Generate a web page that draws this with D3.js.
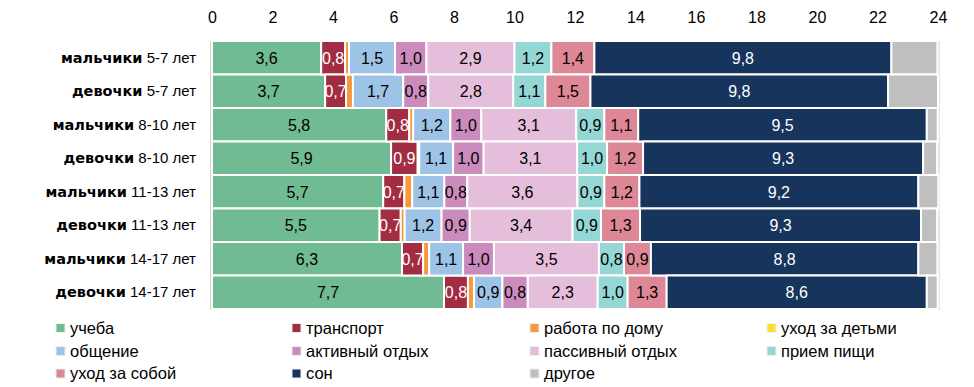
<html>
<head>
<meta charset="utf-8">
<script src="https://d3js.org/d3.v7.min.js"></script>
<style>
  body { margin: 0; background: #fff; }
  text { font-family: "Liberation Sans", Arial, sans-serif; }
</style>
</head>
<body>
<script type="text/javascript">

// groups (rows), top to bottom
var gender = ["мальчики", "девочки", "мальчики", "девочки", "мальчики", "девочки", "мальчики", "девочки"];
var ages = ["5-7", "5-7", "8-10", "8-10", "11-13", "11-13", "14-17", "14-17"];

// hours per day for each activity, one value per row
var study         = [3.61, 3.74, 5.76, 5.92, 5.66, 5.54, 6.28, 7.67];
var transport     = [0.79, 0.69, 0.76, 0.88, 0.70, 0.70, 0.70, 0.79];
var housework     = [0.13, 0.23, 0.13, 0.05, 0.26, 0.13, 0.20, 0.20];
var childcare     = [0, 0, 0, 0, 0, 0, 0, 0];
var communication = [1.52, 1.66, 1.23, 1.12, 1.06, 1.22, 1.12, 0.94];
var activeRest    = [1.04, 0.83, 1.02, 1.01, 0.76, 0.93, 1.02, 0.84];
var passiveRest   = [2.91, 2.81, 3.14, 3.09, 3.64, 3.40, 3.47, 2.31];
var meals         = [1.22, 1.06, 0.93, 0.99, 0.89, 0.94, 0.83, 0.99];
var selfCare      = [1.42, 1.49, 1.12, 1.19, 1.16, 1.29, 0.89, 1.29];
var sleep         = [9.82, 9.84, 9.54, 9.26, 9.22, 9.29, 8.84, 8.60];
var other         = [1.52, 1.65, 0.36, 0.46, 0.66, 0.53, 0.63, 0.36];

var seriesNames = ["учеба", "транспорт", "работа по дому", "уход за детьми",
  "общение", "активный отдых", "пассивный отдых", "прием пищи",
  "уход за собой", "сон", "другое"];
var seriesValues = [study, transport, housework, childcare, communication,
  activeRest, passiveRest, meals, selfCare, sleep, other];
var colors = ["#70bb93", "#a22c42", "#f59a3c", "#fbe03c", "#9dc3e6",
  "#cc8bbd", "#e4bedb", "#94d7d5", "#de8796", "#17345d", "#bfbfbf"];
var whiteLabel = ["транспорт", "сон"];

var xTicks = d3.range(0, 25, 2);

var width = 974, height = 387;
var svg = d3.select("body").append("svg")
  .attr("width", width).attr("height", height);

var rows = gender.map(function(g, i) { return i; });

var x = d3.scaleLinear().domain([0, 24]).range([212, 938]);
var y = d3.scaleBand().domain(rows).range([41, 309]).padding(0);

// build a row table for the stack
var table = rows.map(function(i) {
  var r = {};
  seriesNames.forEach(function(n, k) { r[n] = seriesValues[k][i]; });
  return r;
});
var stack = d3.stack().keys(seriesNames)(table);

// plot frame
svg.append("line").attr("x1", 211).attr("x2", 211).attr("y1", 41).attr("y2", 310)
  .attr("stroke", "#d4d4d4").attr("stroke-width", 2);
svg.append("line").attr("x1", 939).attr("x2", 939).attr("y1", 41).attr("y2", 310)
  .attr("stroke", "#e4e4e4").attr("stroke-width", 2);
svg.append("line").attr("x1", 211).attr("x2", 939).attr("y1", 41).attr("y2", 41)
  .attr("stroke", "#ececec").attr("stroke-dasharray", "1,1");

// top axis
var axis = svg.append("g").attr("transform", "translate(0,23)")
  .call(d3.axisTop(x).tickValues(xTicks).tickSize(0).tickPadding(0));
axis.select(".domain").remove();
axis.selectAll("text").attr("font-size", 16).attr("fill", "#000")
  .attr("font-family", "Liberation Sans, Arial, sans-serif");

var fmt = function(v) { return d3.format(".1f")(v).replace(".", ","); };

var layers = svg.selectAll("g.layer").data(stack).enter().append("g")
  .attr("class", "layer")
  .attr("fill", function(d, k) { return colors[k]; });

layers.selectAll("rect").data(function(d) { return d; }).enter().append("rect")
  .attr("x", function(d) { return x(d[0]); })
  .attr("width", function(d) { return Math.max(0, x(d[1]) - x(d[0])); })
  .attr("y", function(d, i) { return y(i); })
  .attr("height", y.bandwidth())
  .attr("stroke", "#fff").attr("stroke-width", 2);

layers.each(function(s, k) {
  if (s.key === "другое") return;
  d3.select(this).selectAll("text")
    .data(s.filter(function(d) { return d[1] - d[0] >= 0.5; }))
    .enter().append("text")
    .attr("x", function(d) { return (x(d[0]) + x(d[1])) / 2; })
    .attr("y", function(d) { return y(table.indexOf(d.data)) + y.bandwidth() / 2 + 6; })
    .attr("text-anchor", "middle")
    .attr("font-size", 16)
    .attr("fill", whiteLabel.indexOf(s.key) >= 0 ? "#fff" : "#000")
    .text(function(d) { return fmt(d[1] - d[0]); });
});

// row labels
var labels = svg.selectAll("text.rowlabel").data(rows).enter().append("text")
  .attr("class", "rowlabel")
  .attr("x", 196)
  .attr("y", function(i) { return y(i) + y.bandwidth() / 2 + 5; })
  .attr("text-anchor", "end")
  .attr("font-size", 15)
  .attr("fill", "#000");
labels.append("tspan").attr("font-weight", "bold")
  .attr("font-family", "DejaVu Sans, sans-serif").attr("font-size", 14.5)
  .text(function(i) { return gender[i]; });
labels.append("tspan").text(function(i) { return " " + ages[i] + " лет"; });

// legend
var legCols = [56, 292, 530, 767], legRows = [328, 351, 373.5];
var leg = svg.selectAll("g.leg").data(seriesNames).enter().append("g")
  .attr("class", "leg")
  .attr("transform", function(d, k) {
    return "translate(" + legCols[k % 4] + "," + legRows[Math.floor(k / 4)] + ")";
  });
leg.append("rect").attr("x", 0).attr("y", -4.5).attr("width", 9).attr("height", 9)
  .attr("fill", function(d, k) { return colors[k]; })
  .attr("stroke", "#eee").attr("stroke-width", 1);
leg.append("text").attr("x", 14).attr("y", 5.5)
  .attr("font-size", 16.5).attr("fill", "#000")
  .attr("font-family", "DejaVu Sans, sans-serif")
  .text(function(d) { return d; });

</script>
</body>
</html>
